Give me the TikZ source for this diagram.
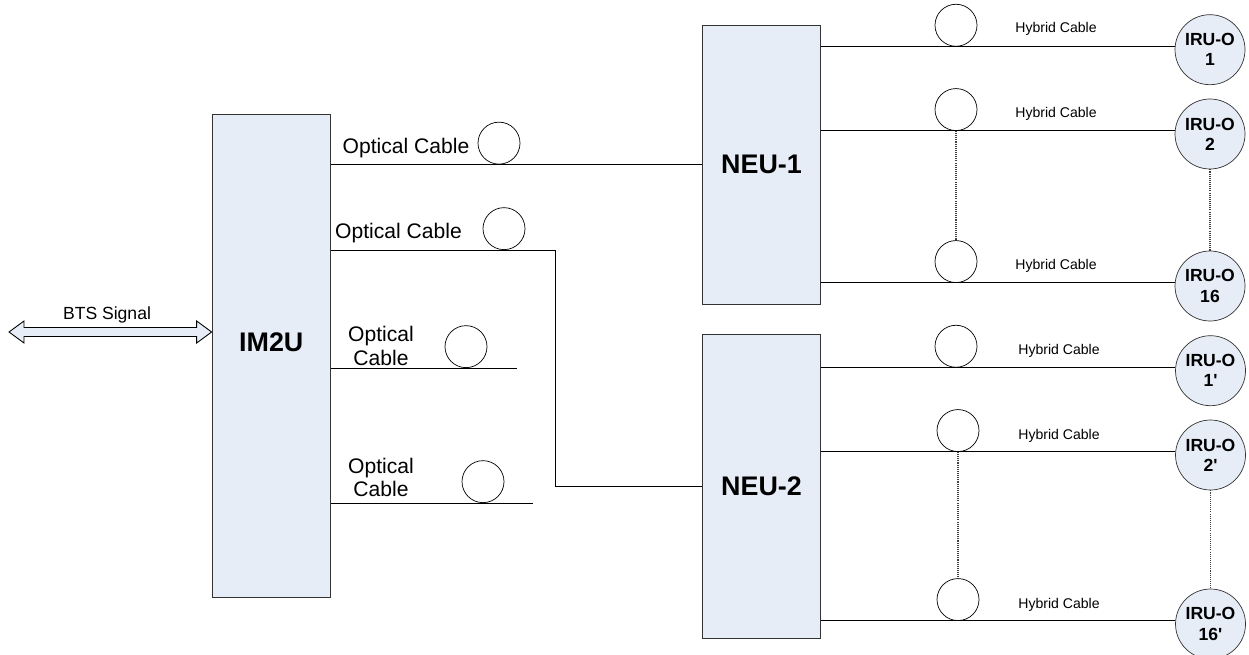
\documentclass[tikz,border=0pt]{standalone}
\usepackage{fontspec}
\setmainfont{Liberation Sans}
\usetikzlibrary{calc}

\definecolor{unitblue}{RGB}{231,237,247}

\begin{document}
\begin{tikzpicture}[
    unitbox/.style={draw=black!80, fill=unitblue, minimum width=2.37cm, inner sep=0pt},
    unitname/.style={font=\fontsize{15.3}{18}\selectfont\bfseries},
    iru/.style={circle, draw=black!80, fill=unitblue, minimum size=1.4cm, inner sep=0pt,
        font=\fontsize{10}{11.5}\selectfont\bfseries, align=center},
    coil/.style={circle, draw, minimum size=0.84cm, inner sep=0pt, anchor=south},
    optlabel/.style={font=\fontsize{12}{13.5}\selectfont, align=center},
    hyblabel/.style={font=\fontsize{8}{9}\selectfont},
    cable/.style={line width=0.5pt},
    dotline/.style={dash pattern=on 0.6pt off 0.6pt, black!75, line width=0.6pt}
]

\useasboundingbox (0,0) rectangle (24.98,-13.08);

% IM2U
\node[unitbox, minimum height=9.66cm] (im2u) at (5.425,-7.11) {};
\node[unitname] at ([yshift=0.26cm]im2u.center) {IM2U};

% BTS Signal
\coordinate (btstip) at (0.18,-6.64);
\node[font=\fontsize{10}{12}\selectfont] (btslabel) at (2.14,-6.30) {BTS Signal};
\draw[fill=unitblue, line width=0.5pt] (btstip) -- ++(0.3,0.22) -- ++(0,-0.13)
    -- ($(im2u.west |- btstip)+(-0.3,0.09)$) -- ++(0,0.13) -- (im2u.west |- btstip)
    -- ++(-0.3,-0.22) -- ++(0,0.13) -- ($(btstip)+(0.3,-0.09)$) -- ++(0,-0.13) -- cycle;

% NEU-1 and NEU-2
\node[unitbox, minimum height=5.58cm] (neu1) at (15.23,-3.29) {};
\node[unitname] at (neu1.center) {NEU-1};
\node[unitbox, minimum height=6.08cm] (neu2) at (15.23,-9.72) {};
\node[unitname] at (neu2.center) {NEU-2};

% Optical cables
\draw[cable] (neu1.west) -- (neu1.west -| im2u.east);
\node[coil] (oc1) at (9.98,0 |- neu1.west) {};
\node[optlabel] (ol1) at (8.12,-2.96) {Optical Cable};

\draw[cable] (neu2.west) -| (11.1,-5) -- (im2u.east |- 0,-5);
\node[coil] (oc2) at (10.08,-5) {};
\node[optlabel] (ol2) at (7.97,-4.66) {Optical Cable};

\coordinate (oc3end) at (10.34,-7.36);
\draw[cable] (im2u.east |- oc3end) -- (oc3end);
\node[coil] (oc3) at (9.32,-7.36) {};
\node[optlabel] (ol3) at (7.62,-6.92) {Optical\\Cable};

\coordinate (oc4end) at (10.66,-10.06);
\draw[cable] (im2u.east |- oc4end) -- (oc4end);
\node[coil] (oc4) at (9.66,-10.06) {};
\node[optlabel] (ol4) at (7.62,-9.55) {Optical\\Cable};

% IRU-O units
\node[iru] (iru1) at (24.20,-0.994) {IRU-O\\1};
\node[iru] (iru2) at (24.20,-2.68) {IRU-O\\2};
\node[iru] (iru16) at (24.20,-5.72) {IRU-O\\16};

\node[iru] (iru1p) at (24.21,-7.414) {IRU-O\\1\textquotesingle};
\node[iru] (iru2p) at (24.21,-9.10) {IRU-O\\2\textquotesingle};
\node[iru] (iru16p) at (24.21,-12.48) {IRU-O\\16\textquotesingle};

% Hybrid cables from NEU-1
\draw[cable] (iru1.175) -- (iru1.175 -| neu1.east);
\draw[cable] (iru2.175) -- (iru2.175 -| neu1.east);
\draw[cable] (iru16.175) -- (iru16.175 -| neu1.east);
\node[coil] (c11) at (19.12,0 |- iru1.175) {};
\node[coil] (c12) at (19.12,0 |- iru2.175) {};
\node[coil] (c13) at (19.12,0 |- iru16.175) {};
\node[hyblabel] (h11) at (21.12,-0.58) {Hybrid Cable};
\node[hyblabel] (h12) at (21.12,-2.28) {Hybrid Cable};
\node[hyblabel] (h13) at (21.12,-5.32) {Hybrid Cable};
\draw[dotline] (c12) -- (c13);
\draw[dotline] (iru2) -- (iru16);

% Hybrid cables from NEU-2
\draw[cable] (iru1p.175) -- (iru1p.175 -| neu2.east);
\draw[cable] (iru2p.175) -- (iru2p.175 -| neu2.east);
\draw[cable] (iru16p.175) -- (iru16p.175 -| neu2.east);
\node[coil] (c21) at (19.12,0 |- iru1p.175) {};
\node[coil] (c22) at (19.16,0 |- iru2p.175) {};
\node[coil] (c23) at (19.16,0 |- iru16p.175) {};
\node[hyblabel] (h21) at (21.18,-7.02) {Hybrid Cable};
\node[hyblabel] (h22) at (21.18,-8.72) {Hybrid Cable};
\node[hyblabel] (h23) at (21.18,-12.10) {Hybrid Cable};
\draw[dotline] (c22) -- (c23);
\draw[dotline] (iru2p) -- (iru16p);

\end{tikzpicture}
\end{document}
